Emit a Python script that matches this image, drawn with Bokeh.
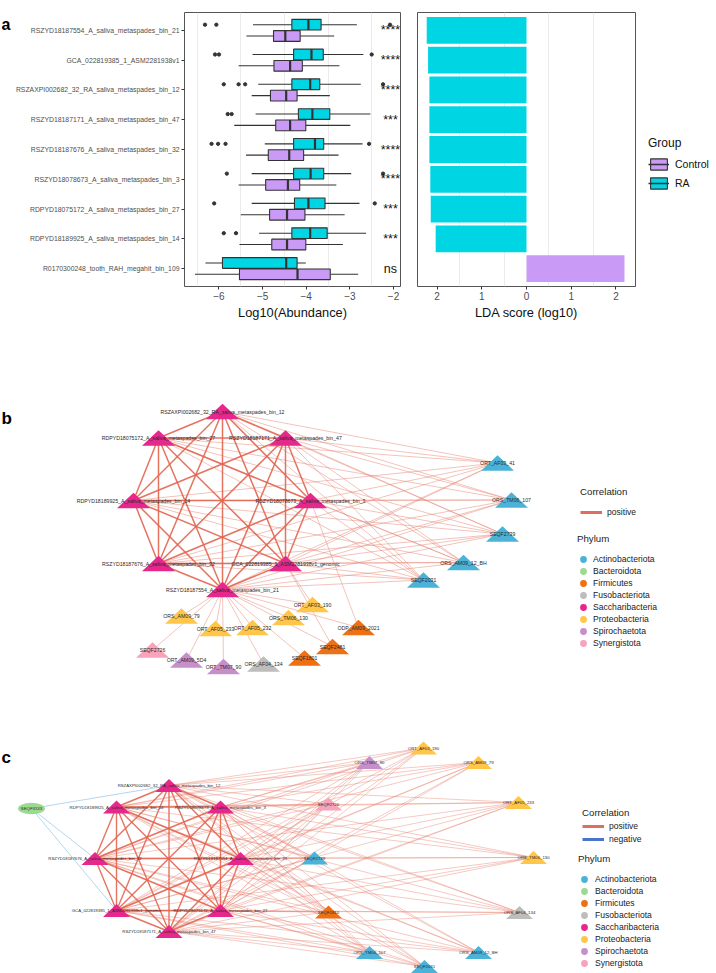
import numpy as np
from bokeh.plotting import figure
from bokeh.models import Range1d, FixedTicker, Legend, LegendItem, Label
from bokeh.layouts import column, row
from bokeh.embed import file_html
from bokeh.resources import INLINE
from bokeh.core.properties import value

FONT = "Liberation Sans"
DARK = "#333333"
RA_COL = "#00D5E4"
CTRL_COL = "#C99AF6"
NAN = [float("nan")]

# ---------------- Panel a data ----------------
taxa = [
    "RSZYD18187554_A_saliva_metaspades_bin_21",
    "GCA_022819385_1_ASM2281938v1",
    "RSZAXPI002682_32_RA_saliva_metaspades_bin_12",
    "RSZYD18187171_A_saliva_metaspades_bin_47",
    "RSZYD18187676_A_saliva_metaspades_bin_32",
    "RSZYD18078673_A_saliva_metaspades_bin_3",
    "RDPYD18075172_A_saliva_metaspades_bin_27",
    "RDPYD18189925_A_saliva_metaspades_bin_14",
    "R0170300248_tooth_RAH_megahit_bin_109",
]
ra_low = [-5.22, -5.23, -5.10, -5.16, -4.95, -5.25, -5.25, -5.08, -6.31]
ra_q1 = [-4.33, -4.29, -4.33, -4.18, -4.29, -4.29, -4.27, -4.33, -5.92]
ra_med = [-3.95, -3.88, -3.91, -3.86, -3.80, -3.90, -3.95, -3.91, -4.46]
ra_q3 = [-3.66, -3.61, -3.69, -3.46, -3.60, -3.60, -3.57, -3.52, -4.21]
ra_high = [-2.84, -2.69, -2.75, -2.53, -2.71, -2.97, -2.78, -2.63, -4.01]
ra_out = [[-6.32, -6.06, -2.08], [-6.09, -6.00, -2.50], [-5.89, -5.55, -5.40, -2.24],
          [-5.80, -5.71], [-6.17, -6.02, -5.85, -2.56], [-5.82, -2.24], [-6.11, -2.43],
          [-5.89, -5.61], []]
ctrl_low = [-5.37, -5.55, -5.25, -5.65, -5.38, -5.55, -5.50, -5.53, -6.55]
ctrl_q1 = [-4.75, -4.74, -4.82, -4.70, -4.87, -4.93, -4.84, -4.79, -5.53]
ctrl_med = [-4.48, -4.37, -4.46, -4.37, -4.39, -4.42, -4.44, -4.44, -4.20]
ctrl_q3 = [-4.14, -4.09, -4.21, -4.01, -4.06, -4.15, -4.03, -4.01, -3.45]
ctrl_high = [-3.36, -3.24, -3.46, -2.99, -3.26, -3.31, -3.12, -3.16, -2.81]
ctrl_out = [[], [], [], [], [], [], [], [], []]
significance = ["****", "****", "****", "***", "****", "****", "***", "***", "ns"]
lda_score = [-2.23, -2.20, -2.17, -2.17, -2.17, -2.15, -2.14, -2.03, 2.19]
lda_group = ["RA"] * 8 + ["Control"]
abund_ticks = [-6, -5, -4, -3, -2]
abund_tick_labels = ["\u22126", "\u22125", "\u22124", "\u22123", "\u22122"]
lda_ticks = [-2, -1, 0, 1, 2]
lda_tick_labels = ["2", "1", "0", "1", "2"]
sig_x = -2.07

# ---------------- Network data ----------------
phyla = ["Actinobacteriota", "Bacteroidota", "Firmicutes", "Fusobacteriota",
         "Saccharibacteria", "Proteobacteria", "Spirochaetota", "Synergistota"]
phylum_colors = ["#4BB2D8", "#9CDA92", "#EE7014", "#BDBDBD",
                 "#E6278B", "#FFC649", "#C68FCB", "#F8A2BC"]

b_names = ["RSZAXPI002682_32_RA_saliva_metaspades_bin_12", "RDPYD18075172_A_saliva_metaspades_bin_27",
           "RSZYD18187171_A_saliva_metaspades_bin_47", "RDPYD18189925_A_saliva_metaspades_bin_14",
           "RSZYD18078673_A_saliva_metaspades_bin_3", "RSZYD18187676_A_saliva_metaspades_bin_32",
           "GCA_022819385_1_ASM2281938v1_genomic", "RSZYD18187554_A_saliva_metaspades_bin_21",
           "ORT_AF03_41", "ORS_TM06_107", "SEQF2739", "ORS_AM09_12_BH", "SEQF2031",
           "ORT_AF03_190", "ORS_AM09_79", "ORS_TM06_130", "ORT_AF05_233", "ORT_AF05_232",
           "ODP_AM09_2021", "SEQF2481", "SEQF1801", "SEQF2726", "ORT_AM09_5D4", "ORT_TM07_90",
           "ORS_AF04_134"]
b_x = [222, 158, 285, 133, 310, 158, 285, 222,
       497, 511, 502, 463, 423,
       312, 181, 288, 215, 252, 358, 332, 304, 152, 186, 223, 263]
b_y = [411, 437.5, 437.5, 500, 500, 563, 563, 589,
       462.5, 499.5, 533.5, 562, 579.5,
       604, 615.5, 617, 628, 627, 627, 646, 657.5, 649.5, 659.5, 666, 663.5]
b_phylum = ["Saccharibacteria"] * 8 + ["Actinobacteriota"] * 5 + ["Proteobacteria"] * 5 + \
           ["Firmicutes"] * 3 + ["Synergistota", "Spirochaetota", "Spirochaetota", "Fusobacteriota"]
b_pink = b_names[:8]
b_blue = b_names[8:13]
b_bottom = b_names[13:]
b_edges = [(b_pink[i], b_pink[j], "positive") for i in range(8) for j in range(i + 1, 8)]
b_edges += [(p, q, "positive") for q in b_blue for p in b_pink]
b_edges += [("RSZYD18187554_A_saliva_metaspades_bin_21", q, "positive") for q in b_bottom]
b_edges += [("GCA_022819385_1_ASM2281938v1_genomic", "ORT_AF03_190", "positive"),
            ("RSZYD18078673_A_saliva_metaspades_bin_3", "ODP_AM09_2021", "positive"),
            ("GCA_022819385_1_ASM2281938v1_genomic", "SEQF2481", "positive")]

c_names = ["RSZAXPI002682_32_RA_saliva_metaspades_bin_12", "RDPYD18189925_A_saliva_metaspades_bin_14",
           "RSZYD18078673_A_saliva_metaspades_bin_3", "RSZYD18187676_A_saliva_metaspades_bin_32",
           "RSZYD18187554_A_saliva_metaspades_bin_21", "GCA_022819385_1_ASM2281938v1_genomic",
           "RDPYD18075172_A_saliva_metaspades_bin_27", "RSZYD18187171_A_saliva_metaspades_bin_47",
           "SEQF3533", "SEQF2720", "SEQF2739", "SEQF1810", "ORS_TM07_90", "ORT_AF03_190",
           "ORS_AM09_79", "ORT_AF05_233", "ORS_TM06_130", "ORS_AF04_134", "ORS_TM06_107",
           "ORS_AM09_12_BH", "SEQF2031"]
c_x = [168.5, 116, 220, 94.5, 240, 116, 220, 168.5,
       31, 328, 314, 328, 369, 423, 478, 518, 533, 519, 369, 478, 424]
c_y = [785, 806.5, 806.5, 858, 858, 910, 910, 931,
       808, 803.5, 857.5, 911.5, 762, 747.5, 762, 802, 857, 912, 952, 952, 966]
c_phylum = ["Saccharibacteria"] * 8 + ["Bacteroidota", "Synergistota", "Actinobacteriota", "Firmicutes",
            "Spirochaetota", "Proteobacteria", "Proteobacteria", "Proteobacteria", "Proteobacteria",
            "Fusobacteriota", "Actinobacteriota", "Actinobacteriota", "Actinobacteriota"]
c_pink = c_names[:8]
c_other = c_names[9:]
c_edges = [(c_pink[i], c_pink[j], "positive") for i in range(8) for j in range(i + 1, 8)]
c_edges += [(p, q, "positive") for q in c_other for p in c_pink]
c_edges += [("SEQF3533", q, "negative") for q in ["RSZAXPI002682_32_RA_saliva_metaspades_bin_12",
                                                   "RSZYD18187676_A_saliva_metaspades_bin_32",
                                                   "GCA_022819385_1_ASM2281938v1_genomic"]]

# ======================= helpers =======================
pos = np.arange(1, len(taxa) + 1)
DODGE = 0.19
BOXH = 0.36

def blank_fig(w, h, xr, yr):
    f = figure(width=w, height=h, x_range=xr, y_range=yr, x_axis_type=None, y_axis_type=None,
               min_border=0, output_backend="svg", toolbar_location=None)
    f.outline_line_color = None
    return f

def style_axes(p):
    for ax in p.axis:
        ax.axis_line_color = None
        ax.major_tick_line_color = DARK
        ax.major_tick_in = 0
        ax.major_tick_out = 3
        ax.minor_tick_line_color = None
        ax.major_label_text_font = FONT
        ax.major_label_text_color = "#4D4D4D"
        ax.axis_label_text_font = FONT
        ax.axis_label_text_font_style = "normal"
        ax.axis_label_text_color = "#111111"
    p.outline_line_color = "#555555"
    p.outline_line_width = 1
    p.ygrid.visible = False
    p.xgrid.grid_line_color = "#EBEBEB"
    p.xgrid.grid_line_width = 1

# ======================= panel letter a =======================
fa = blank_fig(12, 322, Range1d(0, 12), Range1d(322, 0))
fa.add_layout(Label(x=1, y=14.5, text="a", text_font=FONT, text_font_size="16px",
                    text_font_style="bold", text_color="#000000", text_baseline="alphabetic"))

# ======================= Panel a : boxplots =======================
pa = figure(width=396, height=322, x_range=Range1d(-6.79, -1.84), y_range=Range1d(9.6, 0.4),
            output_backend="svg", toolbar_location=None,
            min_border_left=169, min_border_right=8, min_border_top=12, min_border_bottom=35)
style_axes(pa)
pa.xgrid.ticker = FixedTicker(ticks=[-6.5, -5.5, -4.5, -3.5, -2.5])
pa.xaxis.ticker = FixedTicker(ticks=abund_ticks)
pa.xaxis.major_label_overrides = dict(zip(abund_ticks, abund_tick_labels))
pa.xaxis.major_label_text_font_size = "10px"
pa.xaxis.major_label_standoff = 2
pa.xaxis.axis_label = "Log10(Abundance)"
pa.xaxis.axis_label_text_font_size = "12.8px"
pa.xaxis.axis_label_standoff = 2
pa.yaxis.ticker = FixedTicker(ticks=list(pos))
pa.yaxis.major_label_overrides = {int(i): t for i, t in zip(pos, taxa)}
pa.yaxis.major_label_text_font_size = "6.85px"
pa.yaxis.major_label_standoff = 2

for yoff, low, q1, med, q3, high, outs, col in [
        (-DODGE, ra_low, ra_q1, ra_med, ra_q3, ra_high, ra_out, RA_COL),
        (DODGE, ctrl_low, ctrl_q1, ctrl_med, ctrl_q3, ctrl_high, ctrl_out, CTRL_COL)]:
    y = pos + yoff
    pa.segment(x0=low, y0=y, x1=q1, y1=y, line_color=DARK, line_width=1.1)
    pa.segment(x0=q3, y0=y, x1=high, y1=y, line_color=DARK, line_width=1.1)
    pa.hbar(y=y, left=q1, right=q3, height=BOXH, fill_color=col, line_color=DARK, line_width=1.1)
    pa.segment(x0=med, y0=y - BOXH / 2, x1=med, y1=y + BOXH / 2, line_color=DARK, line_width=2.2)
    ox = [v for o in outs for v in o]
    oy = [float(y[i]) for i, o in enumerate(outs) for v in o]
    if ox:
        pa.scatter(x=ox, y=oy, size=3.3, color=DARK)

pa.text(x=[sig_x] * len(taxa), y=pos, text=significance, text_align="center",
        text_baseline="alphabetic", text_font=value(FONT), text_font_size="12.5px",
        text_color="#111111")

# ======================= Panel a : LDA =======================
pl = figure(width=228, height=322, x_range=Range1d(-2.436, 2.436), y_range=Range1d(9.6, 0.4),
            output_backend="svg", toolbar_location=None, y_axis_location=None,
            min_border_left=9, min_border_right=1, min_border_top=12, min_border_bottom=35)
style_axes(pl)
pl.xgrid.ticker = FixedTicker(ticks=[-1.5, -0.5, 0.5, 1.5])
pl.xaxis.ticker = FixedTicker(ticks=lda_ticks)
pl.xaxis.major_label_overrides = dict(zip(lda_ticks, lda_tick_labels))
pl.xaxis.major_label_text_font_size = "10px"
pl.xaxis.major_label_standoff = 2
pl.xaxis.axis_label = "LDA score (log10)"
pl.xaxis.axis_label_text_font_size = "12.8px"
pl.xaxis.axis_label_standoff = 2

bar_cols = [RA_COL if g == "RA" else CTRL_COL for g in lda_group]
pl.hbar(y=pos, left=0, right=lda_score, height=0.9, fill_color=bar_cols, line_color=None)

# ======================= Group legend =======================
fg = blank_fig(80, 322, Range1d(0, 1), Range1d(0, 1))
items = []
for lab, col in [("Control", CTRL_COL), ("RA", RA_COL)]:
    rb = fg.hbar(y=NAN, left=NAN, right=NAN, height=0.5, fill_color=col, line_color=DARK, line_width=1.1)
    rm = fg.line(x=NAN, y=NAN, line_color=DARK, line_width=1.5)
    items.append(LegendItem(label=lab, renderers=[rb, rm]))
gleg = Legend(items=items, title="Group", location=(12, 96), padding=0, margin=0,
              glyph_width=21, glyph_height=14, label_height=14, spacing=5,
              title_standoff=7, label_standoff=6,
              title_text_font=FONT, title_text_font_size="12px", title_text_font_style="normal",
              title_text_color="#111111",
              label_text_font=FONT, label_text_font_size="10.5px", label_text_color="#111111",
              background_fill_alpha=0, border_line_alpha=0)
fg.add_layout(gleg)

# ======================= Panels b, c : networks =======================
pn = blank_fig(716, 651, Range1d(0, 716), Range1d(973, 322))
pcolor = dict(zip(phyla, phylum_colors))

def draw_network(names, xs, ys, phy, edges, tw, th, fsize, wthick, wthin, ellipse=()):
    idx = {n: i for i, n in enumerate(names)}
    groups = {"thick": ([], [], [], []), "thin": ([], [], [], []), "neg": ([], [], [], [])}
    for a, b, sign in edges:
        ia, ib = idx[a], idx[b]
        if sign == "negative":
            key = "neg"
        elif phy[ia] == "Saccharibacteria" and phy[ib] == "Saccharibacteria":
            key = "thick"
        else:
            key = "thin"
        g = groups[key]
        g[0].append(xs[ia]); g[1].append(ys[ia]); g[2].append(xs[ib]); g[3].append(ys[ib])
    for key, col, w, a in [("thin", "#E6806F", wthin, 0.6), ("neg", "#86BDE6", wthin, 0.9),
                           ("thick", "#E2644F", wthick, 0.9)]:
        g = groups[key]
        if g[0]:
            pn.segment(x0=g[0], y0=g[1], x1=g[2], y1=g[3], line_color=col, line_width=w, line_alpha=a)
    txs, tys, tcs = [], [], []
    exs, eys, ecs = [], [], []
    for n, x, y, ph in zip(names, xs, ys, phy):
        if n in ellipse:
            exs.append(x); eys.append(y); ecs.append(pcolor[ph])
        else:
            txs.append([x - tw / 2, x + tw / 2, x])
            tys.append([y + th / 2, y + th / 2, y - th / 2])
            tcs.append(pcolor[ph])
    pn.patches(xs=txs, ys=tys, fill_color=tcs, line_color=None)
    if exs:
        pn.ellipse(x=exs, y=eys, width=27, height=11.5, fill_color=ecs, line_color=None)
    pn.text(x=xs, y=ys, text=names, text_align="center", text_baseline="middle",
            text_font=value(FONT), text_font_size=fsize, text_color="#2A2A2A")

draw_network(b_names, b_x, b_y, b_phylum, b_edges, 33, 15.5, "5.2px", 1.5, 0.8)
draw_network(c_names, c_x, c_y, c_phylum, c_edges, 27, 13, "4.3px", 1.4, 0.7, ellipse=("SEQF3533",))

for txt, yy in [("b", 418), ("c", 757)]:
    pn.add_layout(Label(x=1, y=yy, text=txt, text_font=FONT, text_font_size="17px",
                        text_font_style="bold", text_color="#000000", text_baseline="alphabetic"))

def legend_common(**kw):
    base = dict(padding=0, margin=0, title_text_font=FONT, title_text_font_size="9.7px",
                title_text_font_style="normal", title_text_color="#222222",
                label_text_font=FONT, label_text_font_size="8.6px", label_text_color="#222222",
                background_fill_alpha=0, border_line_alpha=0)
    base.update(kw)
    return Legend(**base)

def corr_legend(signs, loc, standoff, spacing):
    its = []
    for s in signs:
        col = "#DE6E5F" if s == "positive" else "#4A74C9"
        r = pn.line(x=NAN, y=NAN, line_color=col, line_width=3)
        its.append(LegendItem(label=s, renderers=[r]))
    return legend_common(items=its, title="Correlation", location=loc, glyph_width=22,
                         glyph_height=12, label_height=12, spacing=spacing,
                         title_standoff=standoff, label_standoff=5)

def phylum_legend(loc, standoff, lstand):
    its = []
    for ph, col in zip(phyla, phylum_colors):
        r = pn.scatter(x=NAN, y=NAN, marker="circle", size=5, line_width=2, color=col)
        its.append(LegendItem(label=ph, renderers=[r]))
    return legend_common(items=its, title="Phylum", location=loc, glyph_width=12,
                         glyph_height=12, label_height=12, spacing=0,
                         title_standoff=standoff, label_standoff=lstand)

pn.add_layout(corr_legend(["positive"], (580, 455), 9, 0))
pn.add_layout(phylum_legend((577, 324), 9, 4))
pn.add_layout(corr_legend(["positive", "negative"], (582, 128), 2, 1))
pn.add_layout(phylum_legend((578, 4), 9, 5))

layout = column(row(fa, pa, pl, fg), pn)
open("out.html", "w").write(file_html(layout, INLINE))
